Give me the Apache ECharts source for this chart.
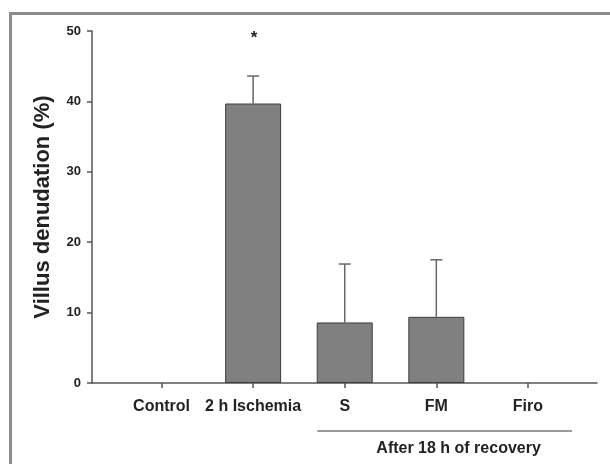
<!DOCTYPE html>
<html><head><meta charset="utf-8">
<script src="https://cdn.jsdelivr.net/npm/echarts@6/dist/echarts.min.js"></script>
<style>html,body{margin:0;padding:0;background:#fff}#c{width:610px;height:464px}</style>
</head><body><div id="c"></div>
<script>
const categories = ['Control', '2 h Ischemia', 'S', 'FM', 'Firo'];
const means = [0, 39.7, 8.6, 9.4, 0];
const errors = [0, 3.9, 8.3, 8.1, 0];
const marks = ['', '*', '', '', ''];
const yTicks = [0, 10, 20, 30, 40, 50];
const groupLabel = 'After 18 h of recovery';
const groupStart = 2, groupEnd = 4;
const positions = categories.map((c, i) => i + 1);

const FONT = '"Liberation Sans", Arial, sans-serif';
const AX = '#555';
const chart = echarts.init(document.getElementById('c'), null, {renderer: 'canvas'});
chart.setOption({
  animation: false,
  backgroundColor: '#fff',
  graphic: [{type: 'rect', shape: {x: 10.5, y: 13.5, width: 640, height: 480},
    style: {fill: 'none', stroke: '#8c8c8c', lineWidth: 3}, z: -1}],
  grid: {left: 92, right: 13, top: 31, bottom: 81},
  xAxis: {
    type: 'value', min: 0.241, max: 5.754,
    axisLine: {lineStyle: {color: AX, width: 1.5}},
    axisTick: {show: true, customValues: positions, length: 5, lineStyle: {color: AX, width: 1.5}},
    axisLabel: {customValues: positions, formatter: v => categories[Math.round(v) - 1] || '',
      fontFamily: FONT, fontWeight: 'bold', fontSize: 16, color: '#222', margin: 16},
    splitLine: {show: false}
  },
  yAxis: {
    type: 'value', min: yTicks[0], max: yTicks[yTicks.length - 1], interval: yTicks[1] - yTicks[0],
    name: 'Villus denudation (%)', nameLocation: 'middle', nameGap: 38,
    nameTextStyle: {fontFamily: FONT, fontWeight: 'bold', fontSize: 22, color: '#222'},
    axisLine: {show: true, lineStyle: {color: AX, width: 1.5}},
    axisTick: {show: true, length: 5, lineStyle: {color: AX, width: 1.5}},
    axisLabel: {fontFamily: FONT, fontWeight: 'bold', fontSize: 13, color: '#222', margin: 11},
    splitLine: {show: false}
  },
  series: [
    {type: 'bar', barWidth: 56,
      data: means.map((m, i) => m > 0 ? [positions[i], m] : {value: [positions[i], m], itemStyle: {borderWidth: 0}}),
      itemStyle: {color: '#808080', borderColor: '#3c3c3c', borderWidth: 1}},
    {type: 'custom', clip: false, z: 3,
      data: means.map((m, i) => [positions[i], m, errors[i]]),
      renderItem: function (params, api) {
        const x = api.value(0), m = api.value(1), e = api.value(2);
        const i = params.dataIndex;
        const children = [];
        const st = {stroke: '#666', lineWidth: 1.5};
        if (e > 0) {
          const p0 = api.coord([x, m]), p1 = api.coord([x, m + e]);
          children.push({type: 'line', shape: {x1: p0[0], y1: p0[1], x2: p1[0], y2: p1[1]}, style: st});
          children.push({type: 'line', shape: {x1: p1[0] - 6, y1: p1[1], x2: p1[0] + 6, y2: p1[1]}, style: st});
        }
        if (marks[i]) {
          const p = api.coord([x, m + e]);
          children.push({type: 'text', style: {text: marks[i], x: p[0] + 1, y: p[1] - 38, align: 'center',
            verticalAlign: 'middle', font: 'bold 17px ' + FONT, fill: '#222'}});
        }
        return {type: 'group', children: children};
      }},
    {type: 'custom', clip: false, silent: true,
      data: [[positions[groupStart], positions[groupEnd]]],
      renderItem: function (params, api) {
        const a = api.coord([api.value(0) - 0.3, 0]);
        const b = api.coord([api.value(1) + 0.48, 0]);
        const y = a[1] + 48;
        return {type: 'group', children: [
          {type: 'line', shape: {x1: a[0], y1: y, x2: b[0], y2: y}, style: {stroke: '#777', lineWidth: 1.5}},
          {type: 'text', style: {text: groupLabel, x: (a[0] + b[0]) / 2 + 14, y: y + 18, align: 'center',
            verticalAlign: 'middle', font: 'bold 16px ' + FONT, fill: '#222'}}
        ]};
      }}
  ]
});
</script></body></html>
